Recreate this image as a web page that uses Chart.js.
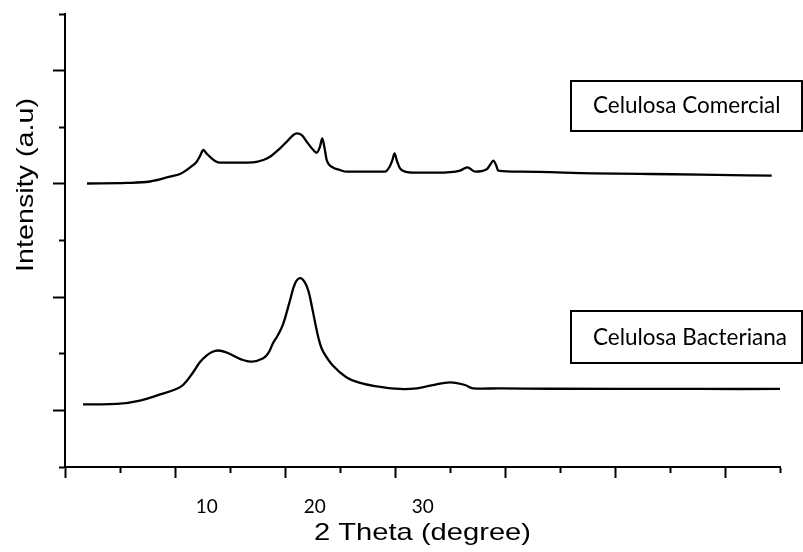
<!DOCTYPE html>
<html>
<head>
<meta charset="utf-8">
<script src="https://cdn.jsdelivr.net/npm/chart.js@4.4.1/dist/chart.umd.min.js"></script>
<style>
  html, body { margin: 0; padding: 0; background: #fff; }
  canvas { display: block; }
</style>
</head>
<body>
<canvas id="xrd" width="803" height="552"></canvas>
<script>
// 2 theta / intensity (intensity in tick units, curves offset)
const thetaComercial = [-1.08, 2.62, 4.75, 6.6, 7.53, 8.15, 8.64, 9.07, 9.38, 9.69, 10.03, 10.46,
  10.86, 11.23, 14.31, 15.24, 15.86, 16.79, 17.41, 18.02, 18.33, 18.8, 19.26, 19.87, 20.19, 20.49,
  20.7, 20.89, 21.11, 21.57, 22.34, 22.96, 26.51, 26.97, 27.2, 27.39, 27.62, 27.9, 28.36, 29.44,
  31.3, 33.45, 34.13, 34.84, 35.93, 36.23, 36.54, 36.79, 37.0, 39.0, 45.77, 51.05, 55.68, 62.31];
const intensityComercial = [5.007, 5.016, 5.042, 5.127, 5.174, 5.245, 5.316, 5.392, 5.492, 5.598, 5.527, 5.451,
  5.395, 5.374, 5.381, 5.422, 5.48, 5.628, 5.745, 5.863, 5.893, 5.863, 5.745, 5.597, 5.55, 5.656,
  5.805, 5.656, 5.422, 5.303, 5.245, 5.215, 5.215, 5.316, 5.422, 5.539, 5.403, 5.274, 5.218, 5.197,
  5.197, 5.233, 5.293, 5.215, 5.257, 5.333, 5.409, 5.333, 5.233, 5.215, 5.187, 5.174, 5.165, 5.144];

const thetaBacteriana = [-1.45, 1.69, 3.82, 5.68, 7.07, 7.81, 8.76, 9.38, 10.0, 10.49, 11.07, 11.85,
  12.62, 13.36, 14.19, 15.24, 15.7, 16.17, 16.6, 17.09, 17.71, 18.18, 18.64, 19.1, 19.43, 19.72,
  20.19, 20.49, 20.8, 21.72, 22.96, 24.04, 25.58, 27.9, 29.47, 30.95, 32.53, 33.92, 34.66, 37.16,
  41.79, 55.68, 63.08];
const intensityBacteriana = [1.107, 1.113, 1.174, 1.281, 1.369, 1.448, 1.677, 1.854, 1.969, 2.031, 2.057, 2.022,
  1.951, 1.89, 1.86, 1.921, 2.009, 2.2, 2.33, 2.534, 2.94, 3.24, 3.334, 3.258, 3.099, 2.852,
  2.41, 2.179, 2.031, 1.783, 1.581, 1.496, 1.43, 1.378, 1.39, 1.448, 1.496, 1.448, 1.39, 1.39,
  1.382, 1.378, 1.378];

const seriesNames = ['Celulosa Comercial', 'Celulosa Bacteriana'];
const xTickLabels = [10, 20, 30];
const xMin = -3.12, xMax = 63.08, xTickCount = 13;
const yMin = 0, yMax = 8;
const xTitle = '2 Theta (degree)';
const yTitle = 'Intensity (a.u)';

function pairs(xs, ys) {
  return xs.map((x, i) => ({ x: x, y: ys[i] }));
}

// titles and the two label boxes
const overlay = {
  id: 'overlay',
  afterDraw(chart) {
    const ctx = chart.ctx;
    const area = chart.chartArea;

    ctx.save();
    ctx.fillStyle = '#000';
    ctx.font = '24px "Liberation Sans", Arial, sans-serif';
    ctx.textAlign = 'center';
    ctx.textBaseline = 'alphabetic';
    let w = ctx.measureText(yTitle).width;
    ctx.translate(32.5, 185);
    ctx.rotate(-Math.PI / 2);
    ctx.scale(174 / w, 1);
    ctx.fillText(yTitle, 0, 0);
    ctx.restore();

    ctx.save();
    ctx.fillStyle = '#000';
    ctx.font = '24px "Liberation Sans", Arial, sans-serif';
    ctx.textAlign = 'center';
    ctx.textBaseline = 'alphabetic';
    w = ctx.measureText(xTitle).width;
    ctx.translate((area.left + area.right) / 2, 540);
    ctx.scale(217 / w, 1);
    ctx.fillText(xTitle, 0, 0);
    ctx.restore();

    const boxes = [
      { text: seriesNames[0], top: 81, h: 50, base: 112.7 },
      { text: seriesNames[1], top: 311, h: 52, base: 345 }
    ];
    ctx.save();
    ctx.strokeStyle = '#000';
    ctx.lineWidth = 2;
    ctx.fillStyle = '#000';
    ctx.font = '22.5px Lato, "Open Sans", sans-serif';
    ctx.textAlign = 'left';
    ctx.textBaseline = 'alphabetic';
    boxes.forEach(b => {
      ctx.strokeRect(571, b.top, 231, b.h);
      ctx.fillText(b.text, 593, b.base);
    });
    ctx.restore();
  }
};

const ctx = document.getElementById('xrd').getContext('2d');
new Chart(ctx, {
  type: 'scatter',
  data: {
    datasets: [
      {
        label: seriesNames[0],
        data: pairs(thetaComercial, intensityComercial),
        showLine: true,
        borderColor: '#000',
        borderWidth: 2.3,
        pointRadius: 0,
        cubicInterpolationMode: 'monotone',
        clip: false
      },
      {
        label: seriesNames[1],
        data: pairs(thetaBacteriana, intensityBacteriana),
        showLine: true,
        borderColor: '#000',
        borderWidth: 2.3,
        pointRadius: 0,
        tension: 0.4,
        clip: false
      }
    ]
  },
  options: {
    responsive: false,
    devicePixelRatio: 1,
    animation: false,
    layout: { padding: { left: 53, top: 14, right: 23, bottom: 0 } },
    plugins: {
      legend: { display: false },
      tooltip: { enabled: false }
    },
    scales: {
      x: {
        type: 'linear',
        min: xMin,
        max: xMax,
        afterBuildTicks: scale => {
          const step = (xMax - xMin) / xTickCount;
          const marks = [];
          for (let k = 0; k <= xTickCount; k++) {
            marks.push({ value: xMin + k * step, mark: true, big: k % 2 === 0 });
          }
          const labels = xTickLabels.map(v => ({ value: v, mark: false }));
          scale.ticks = marks.concat(labels).sort((a, b) => a.value - b.value);
        },
        afterFit: scale => { scale.height = 85; },
        border: { display: true, color: '#000', width: 2 },
        grid: {
          display: true,
          drawOnChartArea: false,
          drawTicks: true,
          tickLength: 11,
          tickWidth: 2,
          tickColor: c => (c.tick && c.tick.mark ? '#000' : 'rgba(0,0,0,0)'),
          tickBorderDash: c => (c.tick && c.tick.mark && !c.tick.big ? [5, 30] : [])
        },
        ticks: {
          autoSkip: false,
          maxRotation: 0,
          padding: 17,
          color: '#000',
          font: { family: 'Lato', size: 19 },
          callback: (value, i, ticks) => (ticks[i].mark ? '' : String(value))
        }
      },
      y: {
        type: 'linear',
        min: yMin,
        max: yMax,
        afterFit: scale => { scale.width = 12; },
        border: { display: true, color: '#000', width: 2 },
        grid: {
          display: true,
          drawOnChartArea: false,
          drawTicks: true,
          tickLength: 12,
          tickWidth: 2,
          tickColor: '#000',
          tickBorderDash: c => (c.tick && c.tick.value % 2 === 0 ? [0, 6, 7, 30] : [])
        },
        ticks: { display: false, stepSize: 1 }
      }
    }
  },
  plugins: [overlay]
});
</script>
</body>
</html>
